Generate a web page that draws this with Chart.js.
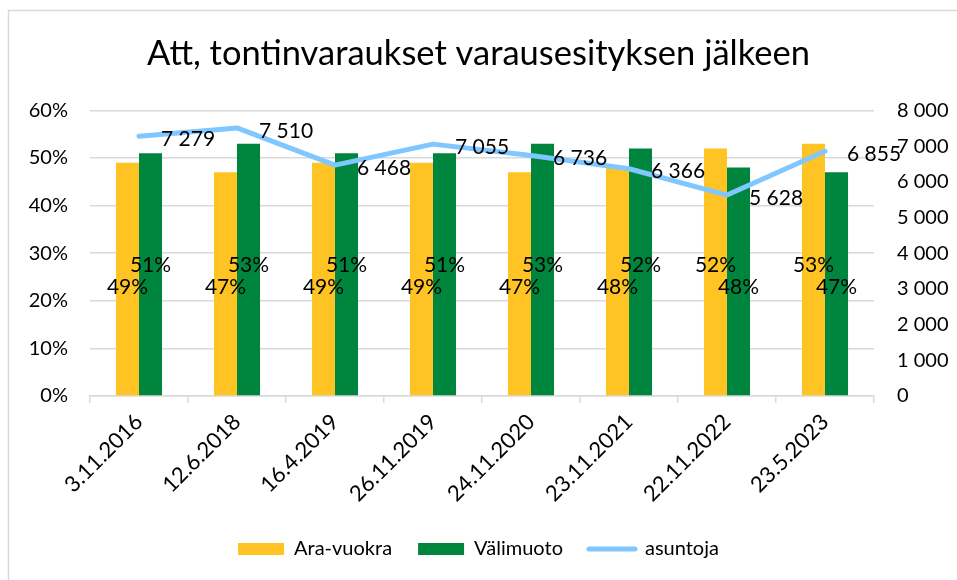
<!DOCTYPE html>
<html>
<head>
<meta charset="utf-8">
<script src="https://cdn.jsdelivr.net/npm/chart.js@4/dist/chart.umd.min.js"></script>
<style>
  html, body { margin: 0; padding: 0; background: #ffffff; }
  #wrap { width: 957px; height: 580px; position: relative; }
</style>
</head>
<body>
<div id="wrap"><canvas id="c" width="957" height="580"></canvas></div>
<script>
const categories = ["3.11.2016", "12.6.2018", "16.4.2019", "26.11.2019", "24.11.2020", "23.11.2021", "22.11.2022", "23.5.2023"];
const araVuokra = [49, 47, 49, 49, 47, 48, 52, 53];
const valimuoto = [51, 53, 51, 51, 53, 52, 48, 47];
const asuntoja = [7279, 7510, 6468, 7055, 6736, 6366, 5628, 6855];
const leftTicks = [0, 10, 20, 30, 40, 50, 60];
const rightTicks = [0, 1000, 2000, 3000, 4000, 5000, 6000, 7000, 8000];

const FONT = "Lato, 'Open Sans', sans-serif";
const fmtThousands = v => String(v).replace(/\B(?=(\d{3})+(?!\d))/g, ' ');

const frame = {
  id: 'frame',
  beforeDraw(chart) {
    const ctx = chart.ctx;
    ctx.save();
    ctx.fillStyle = '#ffffff';
    ctx.fillRect(0, 0, chart.width, chart.height);
    ctx.strokeStyle = '#d9d9d9';
    ctx.lineWidth = 1.5;
    ctx.beginPath();
    ctx.moveTo(8.5, chart.height + 5);
    ctx.lineTo(8.5, 10.5);
    ctx.lineTo(chart.width + 5, 10.5);
    ctx.stroke();
    ctx.restore();
  }
};

// Data labels: bar labels centred in the bar (pushed apart when the pair would collide),
// line labels to the right of each point.
const labelsPlugin = {
  id: 'valueLabels',
  afterDatasetsDraw(chart) {
    const ctx = chart.ctx;
    ctx.save();
    ctx.font = "21px " + FONT;
    ctx.fillStyle = '#000000';
    ctx.textBaseline = 'middle';
    const barMetas = chart.data.datasets.map((ds, di) => ds.type === 'bar' ? chart.getDatasetMeta(di) : null).filter(Boolean);
    const n = chart.data.labels.length;
    for (let i = 0; i < n; i++) {
      const els = barMetas.map(m => m.data[i]);
      const mids = els.map(el => (el.y + el.base) / 2);
      const c = (mids[0] + mids[1]) / 2;
      const hiIdx = els[0].y <= els[1].y ? 0 : 1;
      const pos = [];
      pos[hiIdx] = Math.min(mids[hiIdx], c - 11);
      pos[1 - hiIdx] = Math.max(mids[1 - hiIdx], c + 11);
      barMetas.forEach((m, k) => {
        const ds = chart.data.datasets[m.index];
        ctx.textAlign = 'center';
        ctx.fillText(ds.data[i] + '%', els[k].x, pos[k]);
      });
    }
    chart.data.datasets.forEach((ds, di) => {
      if (ds.type !== 'line') return;
      const meta = chart.getDatasetMeta(di);
      meta.data.forEach((el, i) => {
        ctx.textAlign = 'left';
        ctx.fillText(fmtThousands(ds.data[i]), el.x + 22, el.y + 3);
      });
    });
    ctx.restore();
  }
};

new Chart(document.getElementById('c'), {
  data: {
    labels: categories,
    datasets: [
      { type: 'bar', label: 'Ara-vuokra', data: araVuokra, backgroundColor: '#FFC423', yAxisID: 'y', order: 1,
        barPercentage: 1.0, categoryPercentage: 0.47 },
      { type: 'bar', label: 'Välimuoto', data: valimuoto, backgroundColor: '#00853F', yAxisID: 'y', order: 1,
        barPercentage: 1.0, categoryPercentage: 0.47 },
      { type: 'line', label: 'asuntoja', data: asuntoja, borderColor: '#80C7FF', backgroundColor: '#80C7FF',
        borderWidth: 5, pointRadius: 0, tension: 0, yAxisID: 'y1', order: 0,
        borderCapStyle: 'round', borderJoinStyle: 'round' }
    ]
  },
  options: {
    responsive: false,
    animation: false,
    devicePixelRatio: 1,
    layout: { padding: { left: 0, right: 0, top: 0, bottom: 11 } },
    plugins: {
      tooltip: { enabled: false },
      title: {
        display: true,
        text: 'Att, tontinvaraukset varausesityksen jälkeen',
        color: '#000000',
        font: { family: FONT, size: 34.5, weight: 'normal' },
        padding: { top: 33, bottom: 36 }
      },
      legend: {
        position: 'bottom',
        labels: {
          color: '#000000',
          font: { family: FONT, size: 20 },
          usePointStyle: true,
          pointStyleWidth: 46,
          boxHeight: 12,
          padding: 26,
          generateLabels(chart) {
            return chart.data.datasets.map((ds, i) => ({
              text: ds.label,
              fillStyle: ds.backgroundColor,
              strokeStyle: ds.type === 'line' ? ds.borderColor : ds.backgroundColor,
              lineWidth: ds.type === 'line' ? 5 : 0,
              lineCap: 'round',
              pointStyle: ds.type === 'line' ? 'line' : 'rect',
              datasetIndex: i,
              hidden: false
            }));
          }
        }
      }
    },
    scales: {
      x: {
        offset: true,
        grid: { display: true, drawOnChartArea: false, drawTicks: true, tickLength: 7, color: '#d9d9d9', lineWidth: 1.5, offset: true },
        border: { display: true, color: '#d9d9d9', width: 1.5 },
        ticks: { color: '#000000', font: { family: FONT, size: 22 }, minRotation: 45, maxRotation: 45, padding: 6, autoSkip: false },
        afterFit(scale) { scale.height = 117; }
      },
      y: {
        position: 'left',
        min: 0, max: 60,
        afterBuildTicks(scale) { scale.ticks = leftTicks.map(v => ({ value: v })); },
        grid: { color: '#d9d9d9', lineWidth: 1.5, drawTicks: false },
        border: { display: false },
        ticks: { color: '#000000', font: { family: FONT, size: 20 }, padding: 22, callback: v => v + '%' },
        afterFit(scale) { scale.width = 90; }
      },
      y1: {
        position: 'right',
        min: 0, max: 8000,
        afterBuildTicks(scale) { scale.ticks = rightTicks.map(v => ({ value: v })); },
        grid: { display: false, drawTicks: false },
        border: { display: false },
        ticks: { color: '#000000', font: { family: FONT, size: 20 }, padding: 23, callback: v => fmtThousands(v) },
        afterFit(scale) { scale.width = 83; }
      }
    }
  },
  plugins: [frame, labelsPlugin]
});
</script>
</body>
</html>
